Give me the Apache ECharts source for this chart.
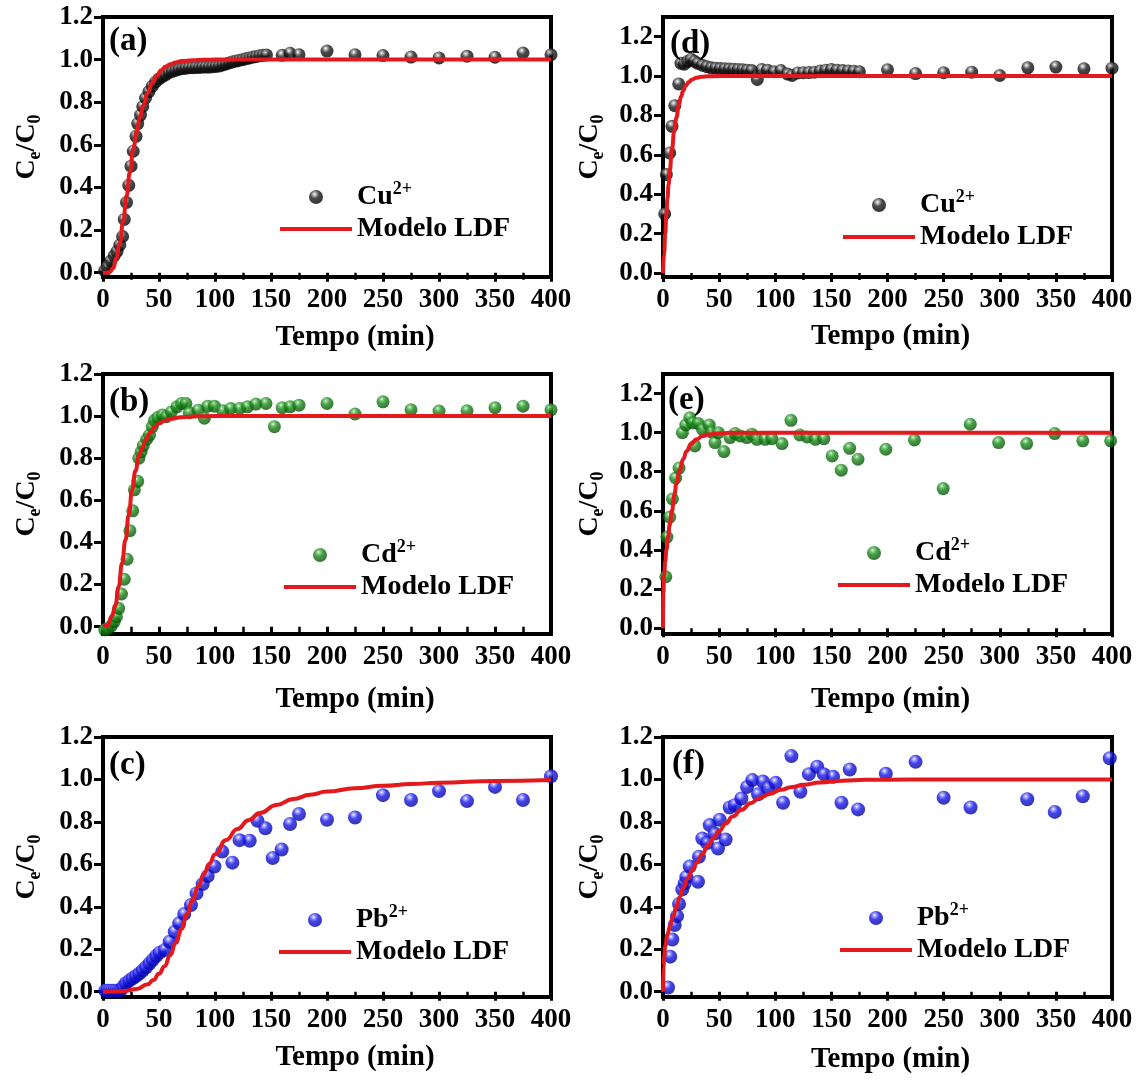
<!DOCTYPE html>
<html><head><meta charset="utf-8">
<script src="https://cdn.jsdelivr.net/npm/echarts@6/dist/echarts.min.js"></script>
<style>html,body{margin:0;padding:0;background:#fff}#c{width:1138px;height:1084px}</style>
</head><body><div id="c"></div><script>
// ---------- DATA ----------
// (a) Cu2+ left
const aT = [1.5,4,7,10,12.5,15,17.5,19,21,23,25,27,29.5,31,33.5,35.5,38,41,44,47,50,53,56,59,62,65,68,71,74,77,80,83,86,89,92,95,98,101,104,107,110,113,116,119,122,125,128,131,134,137,140,143,146,160,167,175,200,225,250,275,300,325,350,375,400];
const aV = [0.01,0.03,0.055,0.08,0.1,0.13,0.17,0.25,0.33,0.41,0.5,0.57,0.64,0.7,0.74,0.78,0.82,0.85,0.875,0.895,0.91,0.92,0.93,0.94,0.945,0.95,0.955,0.958,0.96,0.962,0.962,0.963,0.963,0.965,0.965,0.965,0.967,0.968,0.97,0.975,0.98,0.985,0.99,0.993,0.997,1.0,1.005,1.008,1.012,1.015,1.018,1.02,1.022,1.02,1.03,1.023,1.04,1.023,1.019,1.012,1.008,1.016,1.011,1.031,1.023];
const afT = [0,3,6,9,12,15,18,21,24,27,30,33,36,40,44,48,52,56,60,65,70,80,90,100,150,200,300,400];
const afV = [0,0,0.003,0.02,0.07,0.14,0.24,0.36,0.47,0.58,0.66,0.73,0.785,0.845,0.89,0.925,0.95,0.968,0.978,0.987,0.993,0.997,0.999,1.0,1.0,1.0,1.0,1.0];
// (d) Cu2+ right
const dT = [1.5,3,6,8,10.5,14,16,19,22,25,28,31,35,39,43,47,51,55,59,63,67,71,75,79,84,88,93,99,105,111,115,120,125,130,135,140,145,150,155,160,165,170,175,200,225,250,275,300,325,350,375,400];
const dV = [0.3,0.5,0.61,0.745,0.85,0.96,1.065,1.06,1.075,1.085,1.075,1.065,1.055,1.048,1.042,1.04,1.038,1.037,1.036,1.035,1.034,1.032,1.03,1.028,0.983,1.033,1.03,1.022,1.028,1.01,1.003,1.016,1.017,1.018,1.02,1.026,1.03,1.033,1.03,1.028,1.026,1.025,1.022,1.032,1.013,1.017,1.02,1.003,1.042,1.046,1.037,1.04];
const dfT = [0,1,2,3,4,5,6,8,10,12,14,16,18,20,23,26,30,35,40,50,60,100,200,400];
const dfV = [0,0.1,0.2,0.3,0.38,0.45,0.52,0.63,0.72,0.79,0.85,0.895,0.925,0.95,0.97,0.983,0.992,0.997,0.999,1.0,1.0,1.0,1.0,1.0];
// (b) Cd2+ left
const bT = [1.5,4.5,7.5,10,12,14,16.5,19,21.5,24,26.5,28,31,32,34,36,39,41.5,44,46,49,53,56.5,61,66,70,74,77,85,90.5,93.5,99.5,107,114,122,129,136.5,145.5,153,160,167,175,200,225,250,275,300,325,350,375,400];
const bV = [-0.015,-0.008,0.003,0.024,0.047,0.087,0.155,0.225,0.32,0.456,0.55,0.65,0.69,0.8,0.83,0.86,0.89,0.91,0.95,0.98,0.994,1.005,0.997,1.02,1.044,1.06,1.06,1.016,1.028,0.99,1.047,1.047,1.025,1.036,1.036,1.044,1.057,1.06,0.95,1.04,1.044,1.052,1.06,1.01,1.068,1.03,1.024,1.025,1.04,1.047,1.03];
const bfT = [0,4,8,11,14,17,20,23,26,29,32,35,38,42,46,50,55,60,70,85,100,200,400];
const bfV = [0,0.006,0.05,0.1,0.19,0.3,0.41,0.53,0.65,0.74,0.81,0.85,0.885,0.92,0.948,0.965,0.978,0.987,0.995,0.999,1.0,1.0,1.0];
// (e) Cd2+ right
const eT = [2.5,3.5,6,8.4,11.3,14.3,17.3,20.3,23.9,26.3,28.4,31.3,35.2,41.2,43.3,46.3,49.3,54.3,59.7,64.2,68.7,74.6,79.1,83.6,91,97,106,114,121.8,128.4,135.8,143.3,150.7,158.8,166.3,173.7,198.5,224,249.6,273.7,299,324,349,374,398.8];
const eV = [0.263,0.466,0.568,0.661,0.768,0.819,1.0,1.039,1.076,1.05,0.932,1.047,1.017,1.039,1.003,0.949,1.0,0.903,0.975,0.995,0.983,0.975,0.992,0.966,0.966,0.969,0.944,1.063,0.988,0.978,0.966,0.969,0.881,0.808,0.92,0.864,0.915,0.963,0.714,1.043,0.949,0.944,0.995,0.958,0.958];
const efT = [0,0.3,1,2,3,4.5,6,8,10,12,15,18,21,25,30,35,40,50,60,80,100,200,400];
const efV = [0,0.18,0.27,0.34,0.4,0.466,0.53,0.6,0.68,0.74,0.81,0.865,0.905,0.942,0.966,0.982,0.99,0.996,0.999,1.0,1.0,1.0,1.0];
// (c) Pb2+ left
const cT = [2,4,6,8,10,12,14,16,18,20.5,23.5,26.5,29.5,32.5,35.5,38.5,41.5,44.5,47.5,50.5,55,59.5,64,68,72.5,78.5,83.5,89,93.5,99.5,106.5,115.5,122,131,138,145,151.5,159.5,167,175,200,225,250,275,300,325,350,375,400];
const cV = [0.005,0.005,0.005,0.005,0.005,0.005,0.005,0.008,0.024,0.04,0.052,0.063,0.074,0.086,0.1,0.115,0.133,0.15,0.168,0.184,0.196,0.235,0.283,0.322,0.366,0.408,0.463,0.507,0.545,0.59,0.66,0.608,0.714,0.711,0.805,0.77,0.63,0.67,0.79,0.837,0.81,0.821,0.926,0.903,0.945,0.898,0.965,0.903,1.015];
const cfT = [0,10,20,30,40,45,50,55,60,65,70,75,80,85,90,95,100,110,120,130,140,155,170,185,200,225,250,275,300,350,400];
const cfV = [0,0.001,0.004,0.013,0.035,0.055,0.084,0.12,0.172,0.23,0.295,0.365,0.433,0.495,0.553,0.603,0.647,0.715,0.767,0.808,0.842,0.88,0.908,0.928,0.943,0.958,0.97,0.978,0.985,0.993,0.997];
// (f) Pb2+ right
const fT = [4.5,6.5,8.3,10.4,12.5,14.3,17.2,19.3,20.8,23.8,31.2,32,35,39.2,41.6,46,49,50.5,55.8,59.4,63.9,69.8,74.9,79.6,84.7,89,93.6,100.4,107,114.4,122.4,130,137.3,143.2,151.5,159,166.4,173.8,198.5,225,250,274,324.5,349,374,398];
const fV = [0.02,0.165,0.246,0.314,0.356,0.413,0.482,0.51,0.54,0.59,0.518,0.636,0.722,0.7,0.785,0.745,0.675,0.81,0.717,0.868,0.879,0.91,0.965,0.997,0.93,0.99,0.96,0.984,0.89,1.11,0.942,1.025,1.06,1.025,1.013,0.89,1.047,0.859,1.027,1.083,0.914,0.868,0.907,0.847,0.921,1.1];
const ffT = [0,0.5,1,2,4,6,9,12,15,18,22,26,30,35,40,45,50,56,62,70,78,86,95,105,115,125,140,160,180,220,300,400];
const ffV = [0,0.12,0.16,0.215,0.27,0.306,0.355,0.4,0.447,0.488,0.533,0.572,0.607,0.648,0.688,0.723,0.757,0.793,0.825,0.857,0.888,0.912,0.932,0.951,0.965,0.975,0.986,0.994,0.998,1.0,1.0,1.0];

const yTicks = [0, 0.2, 0.4, 0.6, 0.8, 1.0, 1.2];
const seriesNames = {cu: 'Cu2+', cd: 'Cd2+', pb: 'Pb2+'};
const fitName = 'Modelo LDF';

// ---------- STYLE / LAYOUT ----------
const FONT = 'Liberation Serif';
function pairs(t, v) { return t.map((x, i) => [x, v[i]]); }
function sphere(hi, light, mid, dark) {
  return {type: 'radial', x: 0.4, y: 0.3, r: 0.75, colorStops: [
    {offset: 0, color: hi}, {offset: 0.14, color: light},
    {offset: 0.42, color: mid}, {offset: 1, color: dark}]};
}
const colors = {
  cu: sphere('#ffffff', '#a8a8a8', '#1c1c1c', '#000000'),
  cd: sphere('#e6ffe6', '#74c474', '#188818', '#054a05'),
  pb: sphere('#ffffff', '#9494ff', '#1616e6', '#000096')
};
const RED = '#e3191c';
const LINE_ICON = 'path://M0,0H72V4H0Z';

const panels = [
  {lbl: '(a)', ion: 'cu', t: aT, v: aV, ft: afT, fv: afV, ymin: -0.02, ymax: 1.2, col: 0, row: 0, lg: [280, 180], tl: [109, 25], ng: 46},
  {lbl: '(d)', ion: 'cu', t: dT, v: dV, ft: dfT, fv: dfV, ymin: -0.02, ymax: 1.3, col: 1, row: 0, lg: [843, 188], tl: [670, 28], ng: 45},
  {lbl: '(b)', ion: 'cd', t: bT, v: bV, ft: bfT, fv: bfV, ymin: -0.035, ymax: 1.2, col: 0, row: 1, lg: [284, 538], tl: [109, 386], ng: 51},
  {lbl: '(e)', ion: 'cd', t: eT, v: eV, ft: efT, fv: efV, ymin: -0.03, ymax: 1.3, col: 1, row: 1, lg: [838, 536], tl: [668, 384], ng: 51},
  {lbl: '(c)', ion: 'pb', t: cT, v: cV, ft: cfT, fv: cfV, ymin: -0.025, ymax: 1.2, col: 0, row: 2, lg: [279, 903], tl: [109, 749], ng: 46},
  {lbl: '(f)', ion: 'pb', t: fT, v: fV, ft: ffT, fv: ffV, ymin: -0.025, ymax: 1.2, col: 1, row: 2, lg: [840, 901], tl: [672, 748], ng: 48}
];
const colX = [{left: 103, width: 448}, {left: 663, width: 449}];
const rowY = [17, 374, 737];
const GH = 260;

const grids = [], xAxes = [], yAxes = [], series = [], legends = [], titles = [];
const tickStyle = {color: '#000', width: 3};
const labelStyle = {color: '#000', fontFamily: FONT, fontWeight: 'bold', fontSize: 27};

panels.forEach((p, i) => {
  grids.push({left: colX[p.col].left, width: colX[p.col].width, top: rowY[p.row], height: GH,
    show: true, borderColor: '#000', borderWidth: 4, backgroundColor: 'transparent'});
  xAxes.push({type: 'value', gridIndex: i, min: 0, max: 400, interval: 50,
    axisLine: {show: false}, splitLine: {show: false},
    axisTick: {show: true, inside: false, length: 9, lineStyle: tickStyle},
    minorTick: {show: true, splitNumber: 2, length: 7, lineStyle: {color: '#000', width: 2.5}},
    axisLabel: Object.assign({margin: 10}, labelStyle),
    name: 'Tempo (min)', nameLocation: 'middle', nameGap: p.ng,
    nameTextStyle: {color: '#000', fontFamily: FONT, fontWeight: 'bold', fontSize: 29,
      padding: p.col === 0 ? [0, 0, 0, 56] : [0, 0, 0, 6]}
  });
  yAxes.push({type: 'value', gridIndex: i, min: p.ymin, max: p.ymax,
    axisLine: {show: false}, splitLine: {show: false},
    axisTick: {show: true, inside: false, length: 9, lineStyle: tickStyle, customValues: yTicks},
    axisLabel: Object.assign({margin: 10, customValues: yTicks, formatter: v => v.toFixed(1)}, labelStyle),
    name: '{m|C}{s|e}{m|/C}{s|0}', nameLocation: 'middle', nameRotate: 90, nameGap: p.col === 0 ? 59 : 56,
    nameTextStyle: {rich: {
      m: {fontFamily: FONT, fontWeight: 'bold', fontSize: 28, lineHeight: 34, color: '#000'},
      s: {fontFamily: FONT, fontWeight: 'bold', fontSize: 18, lineHeight: 18, verticalAlign: 'bottom', color: '#000'}
    }}
  });
  const nm = seriesNames[p.ion];
  series.push({type: 'scatter', name: nm, xAxisIndex: i, yAxisIndex: i, data: pairs(p.t, p.v),
    symbol: 'circle', symbolSize: p.ion === 'pb' ? 14 : 13, itemStyle: {color: colors[p.ion]}, z: 2});
  series.push({type: 'line', name: fitName, xAxisIndex: i, yAxisIndex: i, data: pairs(p.ft, p.fv),
    symbol: 'none', smooth: true, smoothMonotone: 'x',
    lineStyle: {color: RED, width: 4}, itemStyle: {color: RED}, z: 3});
  legends.push({data: [{name: nm, icon: 'circle'}, {name: fitName, icon: LINE_ICON, itemStyle: {color: RED}}],
    orient: 'vertical', left: p.lg[0], top: p.lg[1],
    itemWidth: 72, itemHeight: 14, itemGap: 4, selectedMode: false, padding: 0,
    formatter: name => name === fitName ? '{m|Modelo LDF}' : '{m|' + name.replace('2+', '') + '}{s|2+}',
    textStyle: {rich: {
      m: {fontFamily: FONT, fontWeight: 'bold', fontSize: 28, lineHeight: 34, color: '#000'},
      s: {fontFamily: FONT, fontWeight: 'bold', fontSize: 18, lineHeight: 18, verticalAlign: 'top', color: '#000'}
    }}
  });
  titles.push({text: p.lbl, left: p.tl[0], top: p.tl[1], padding: 0,
    textStyle: {fontFamily: FONT, fontWeight: 'bold', fontSize: 33, color: '#000'}});
});

const chart = echarts.init(document.getElementById('c'));
chart.setOption({
  animation: false, backgroundColor: '#fff',
  title: titles, grid: grids, xAxis: xAxes, yAxis: yAxes, series: series, legend: legends
});
</script></body></html>
